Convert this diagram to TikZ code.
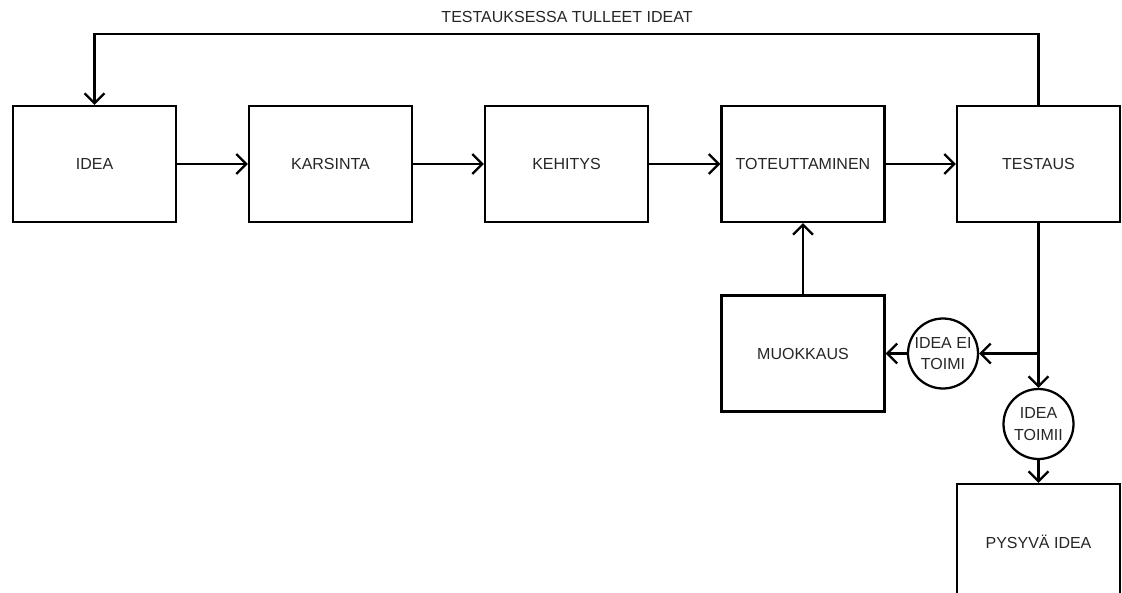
\documentclass[tikz,border=0pt]{standalone}
\usepackage{fontspec}
\setmainfont{Liberation Sans}
\usetikzlibrary{arrows.meta}
\begin{document}
\begin{tikzpicture}[x=0.75pt,y=-0.75pt,
  line width=1.7pt,
  every node/.style={font=\fontsize{12}{14}\selectfont, text=black!85},
  box/.style={draw=black, rectangle, minimum width=163*0.75pt, minimum height=116*0.75pt, inner sep=0pt},
  circ/.style={draw=black, circle, minimum size=70*0.75pt, inner sep=0pt, align=center, font=\fontsize{12}{16}\selectfont},
  arr/.style={-{Straight Barb[length=7.5pt,width=15pt,line width=1.7pt]}}
]
\useasboundingbox (0,0) rectangle (1122,593);
\clip (0,0) rectangle (1122,593);
\fill[white] (0,0) rectangle (1122,593);
\node[box] (idea) at (94.5,164) {IDEA};
\node[box] (kars) at (330.5,164) {KARSINTA};
\node[box] (keh) at (566.5,164) {KEHITYS};
\node[box] (tot) at (803,164) {TOTEUTTAMINEN};
\node[box] (test) at (1038.5,164) {TESTAUS};
\node[box] (muok) at (803,353.5) {MUOKKAUS};
\node[circ] (ei) at (943,353.5) {IDEA EI\\TOIMI};
\node[circ] (toimii) at (1038.5,424) {IDEA\\TOIMII};
\node[box] (pys) at (1038.5,542) {PYSYVÄ IDEA};
\coordinate (j) at (1038.5,353.5);
\coordinate (top) at (1038.5,34);
\draw[arr] (idea) -- (kars);
\draw[arr] (kars) -- (keh);
\draw[arr] (keh) -- (tot);
\draw[arr] (tot) -- (test);
\draw[arr] (test.north) -- (top) -| (idea.north);
\node (lbl) at (567,17) {TESTAUKSESSA TULLEET IDEAT};
\draw[arr] (muok) -- (tot);
\draw (test.south) -- (j);
\draw[arr] (j) -- (ei);
\draw[arr] (ei) -- (muok);
\draw[arr] (j) -- (toimii);
\draw[arr] (toimii) -- (pys);
\end{tikzpicture}
\end{document}
